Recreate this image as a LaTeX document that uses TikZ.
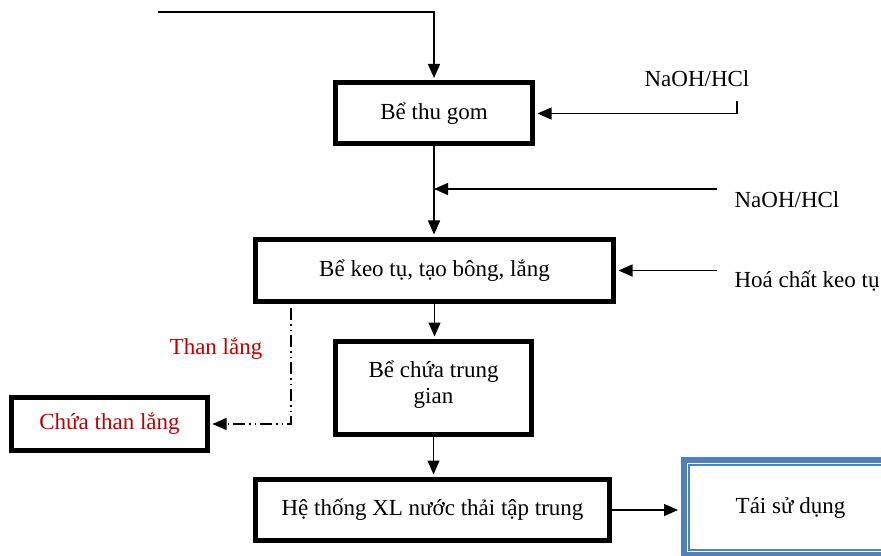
\documentclass[tikz,border=0pt]{standalone}
\usepackage{fontspec}
\setmainfont{Liberation Serif}
\usetikzlibrary{arrows.meta,calc,positioning}
\definecolor{thanred}{RGB}{192,0,0}
\definecolor{reuseblue}{RGB}{79,129,189}

\begin{document}
\begin{tikzpicture}[x=1pt,y=-1pt,
        every node/.style={font=\fontsize{23}{26}\selectfont},
        be/.style={draw,line width=5pt,inner sep=0pt,align=center},
        mui/.style={-{Triangle[length=14pt,width=12pt]},line width=1.4pt,shorten >=2.5pt},
        chamgach/.style={dash pattern=on 12pt off 4pt on 1.5pt off 4pt on 1.5pt off 4pt}]
        \clip (0,0) rectangle (881,556);
        % cac be xu ly
        \node[be,minimum width=197pt,minimum height=61pt] (gom) at (434,113.5) {Bể thu gom};
        \node[be,minimum width=358pt,minimum height=62pt] (keo) at (434.5,270.5) {Bể keo tụ, tạo bông, lắng};
        \node[be,minimum width=196pt,minimum height=93pt] (trunggian) at (433.5,388) {Bể chứa trung\\gian\\[-14pt]};
        \node[be,minimum width=354pt,minimum height=61pt] (hethong) at (432.5,510) {Hệ thống XL nước thải tập trung};
        \node[be,minimum width=196pt,minimum height=53pt,text=thanred] (chua) at (109.5,424) {Chứa than lắng};
        \node[draw=reuseblue,line width=6pt,minimum width=213pt,minimum height=95pt] (taisudung) at (790.5,507.5) {Tái sử dụng};
        \draw[reuseblue,line width=1.5pt] ($(taisudung.south west)+(8,-8)$) rectangle ($(taisudung.north east)+(-8,8)$);
        % hoa chat
        \node (naoh1) at (697,79) {NaOH/HCl};
        \node (naoh2) at (787,200) {NaOH/HCl};
        \node (hoachat) at (807,281) {Hoá chất keo tụ};
        \node[text=thanred] (thanlang) at (216,349) {Than lắng};
        \coordinate (vao) at (158,12);
        \coordinate (naoh1r) at (737,101);
        \coordinate (naoh2l) at (717,189);
        \coordinate (hoachatl) at (717,270.5);
        \coordinate (than) at (291,308);
        % duong dan
        \draw[mui] (vao) -| (gom.north);
        \draw[mui] (naoh1r) |- (gom.east);
        \draw[mui] (gom.south) -- (gom.south |- keo.north);
        \draw[mui,shorten >=0pt] (naoh2l) -- (naoh2l -| gom.south);
        \draw[mui] (hoachatl) -- (keo.east);
        \draw[mui] (keo.south) -- (keo.south |- trunggian.north);
        \draw[mui] (trunggian.south) -- (trunggian.south |- hethong.north);
        \draw[mui,shorten >=3pt] (hethong.east) -- (hethong.east -| taisudung.west);
        \draw[mui,chamgach] (than) |- (chua.east);
    \end{tikzpicture}
\end{document}
